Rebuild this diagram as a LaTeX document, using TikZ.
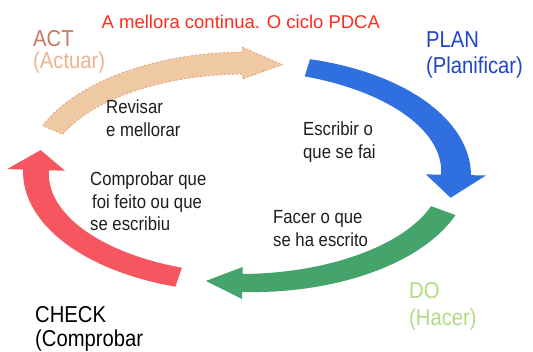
\documentclass[tikz,border=0pt]{standalone}
\usepackage{fontspec}
\setmainfont{Liberation Sans}
\newfontfamily\narrowfont{Liberation Sans}[FakeStretch=0.88]
\definecolor{tanfill}{HTML}{EFC9A3}
\definecolor{tanline}{HTML}{E8906A}
\definecolor{bluefill}{HTML}{2F6FDF}
\definecolor{greenfill}{HTML}{45A46B}
\definecolor{redfill}{HTML}{F5565F}
\definecolor{titlered}{HTML}{FF2B1C}
\definecolor{actcol}{HTML}{C8785F}
\definecolor{actuarcol}{HTML}{ECB48F}
\definecolor{plancol}{HTML}{1F45C8}
\definecolor{docol}{HTML}{B2DB86}
\definecolor{bodycol}{HTML}{1E1E1E}
\def\cx{246}\def\cy{173}\def\rx{210}\def\ry{110}
% #1 style, #2 tail angle, #3 head-base angle, #4 tip angle, #5 tail half width, #6 head-base half width, #7 head half width
\newcommand{\cycarrow}[7]{%
  \path[#1] plot[domain=#2:#3,samples=60,variable=\t]
    ({\cx+(\rx+(#5+(#6-#5)*(\t-#2)/(#3-#2)))*cos(\t)},{\cy+(\ry+(#5+(#6-#5)*(\t-#2)/(#3-#2)))*sin(\t)})
    -- ({\cx+(\rx+#7)*cos(#3)},{\cy+(\ry+#7)*sin(#3)})
    -- ({\cx+\rx*cos(#4)},{\cy+\ry*sin(#4)})
    -- ({\cx+(\rx-#7)*cos(#3)},{\cy+(\ry-#7)*sin(#3)})
    -- plot[domain=#3:#2,samples=60,variable=\t]
    ({\cx+(\rx-(#5+(#6-#5)*(\t-#2)/(#3-#2)))*cos(\t)},{\cy+(\ry-(#5+(#6-#5)*(\t-#2)/(#3-#2)))*sin(\t)})
    -- cycle;}
\tikzset{
  bodytext/.style={anchor=base west, inner sep=0pt, text=bodycol, font=\narrowfont\fontsize{19}{22}\selectfont},
  labeltext/.style={anchor=base west, inner sep=0pt, font=\narrowfont\fontsize{23}{26}\selectfont},
  tanarrow/.style={fill=tanfill, draw=tanline, line width=0.6pt, dash pattern=on 2pt off 2pt},
  bluearrow/.style={fill=bluefill},
  greenarrow/.style={fill=greenfill},
  redarrow/.style={fill=redfill}
}
\begin{document}
\begin{tikzpicture}[x=1pt,y=-1pt]
\useasboundingbox[fill=white] (0,0) rectangle (533,351);
% arrows of the cycle
\cycarrow{tanarrow}{203}{269}{280}{11}{11}{16}
\cycarrow{bluearrow}{287}{361}{373}{9}{15}{30}
\cycarrow{greenarrow}{20}{91}{101}{13}{9}{16}
\cycarrow{redarrow}{108.7}{181.6}{192}{10}{13}{29}
% title
\node[anchor=base west, inner sep=0pt, text=titlered, font=\fontsize{18.5}{22}\selectfont] (title) at (101.5,28.3) {A mellora continua. O ciclo PDCA};
% stage labels
\node[labeltext, text=actcol] (act) at (33,46) {ACT};
\node[labeltext, text=actuarcol] (actuar) at (33,68.3) {(Actuar)};
\node[labeltext, text=plancol] (plan) at (426,47) {PLAN};
\node[labeltext, text=plancol] (planificar) at (426,73.3) {(Planificar)};
\node[labeltext, text=docol] (do) at (409,298) {DO};
\node[labeltext, text=docol] (hacer) at (409,325) {(Hacer)};
\node[labeltext, text=black] (check) at (35,322.7) {CHECK};
\node[labeltext, text=black] (comprobar) at (35,346.7) {(Comprobar};
% inner texts
\node[bodytext] (rev1) at (106,113.3) {Revisar};
\node[bodytext] (rev2) at (106,136) {e mellorar};
\node[bodytext] (esc1) at (303,135) {Escribir o};
\node[bodytext] (esc2) at (303,158.3) {que se fai};
\node[bodytext] (com1) at (90,185) {Comprobar que};
\node[bodytext] (com2) at (92,208) {foi feito ou que};
\node[bodytext] (com3) at (90,230) {se escribiu};
\node[bodytext] (fac1) at (273,223.3) {Facer o que};
\node[bodytext] (fac2) at (273,246.7) {se ha escrito};
\end{tikzpicture}
\end{document}
